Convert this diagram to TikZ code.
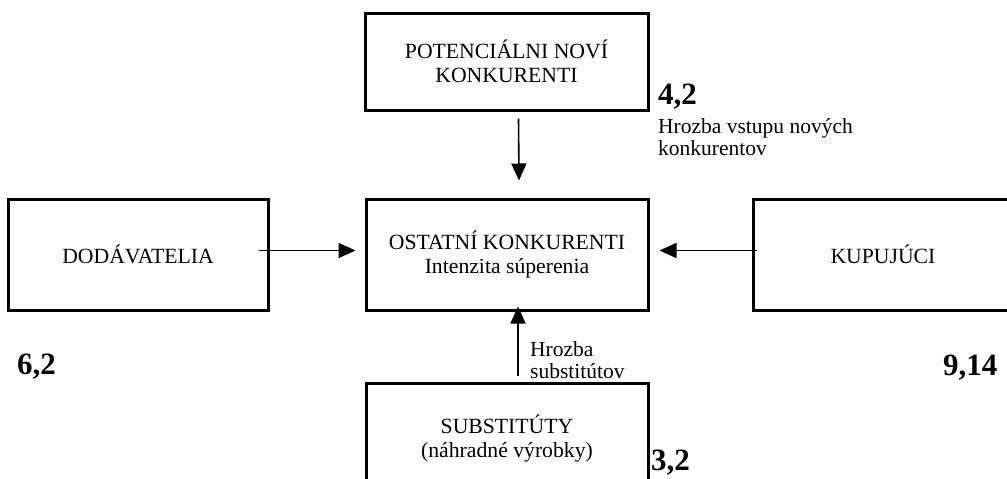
\documentclass[tikz,border=0pt]{standalone}
\usepackage{fontspec}
\setmainfont{Liberation Serif}
\usetikzlibrary{arrows.meta}
\begin{document}
\begin{tikzpicture}[x=1pt,y=-1pt]
\tikzset{
  force/.style={draw, line width=3pt, minimum width=#1, minimum height=111pt,
    inner sep=0pt, align=center, font=\fontsize{21.7}{24}\selectfont},
  flow/.style={line width=1.6pt, arrows={-Triangle[length=17pt, width=15pt]}},
  score/.style={anchor=base west, inner sep=0pt, font=\fontsize{31}{36}\selectfont\bfseries},
  note/.style={anchor=north west, inner sep=0pt, align=left, font=\fontsize{21.5}{22}\selectfont}
}
\clip (0,0) rectangle (1007,479);

\node[force=283pt, minimum height=97pt] (potencialni) at (506.5,61.5) {POTENCIÁLNI NOVÍ\\KONKURENTI};
\node[force=282pt] (ostatni)     at (507,254.5) {OSTATNÍ KONKURENTI\\Intenzita súperenia};
\node[force=260pt] (dodavatelia) at (138,254.5) {DODÁVATELIA};
\node[force=260pt] (kupujuci)    at (883,254.5) {KUPUJÚCI};
\node[force=282pt] (substituty)  at (507,438.5) {SUBSTITÚTY\\(náhradné výrobky)};

\draw[flow] ([xshift=12pt,yshift=-7pt]potencialni.south) -- ([xshift=12pt,yshift=17pt]ostatni.north);
\draw[flow] ([xshift=11pt,yshift=6pt]substituty.north)   -- ([xshift=11pt,yshift=5pt]ostatni.south);
\draw[flow] ([xshift=-11pt,yshift=4pt]dodavatelia.east)  -- ([xshift=-9pt,yshift=4pt]ostatni.west);
\draw[flow] ([xshift=5pt,yshift=4pt]kupujuci.west)       -- ([xshift=10pt,yshift=4pt]ostatni.east);

\node[score] (vstupCislo) at (658,104) {4,2};
\node[note]  (vstupText)  at (658,118) {Hrozba vstupu nových\\konkurentov};
\node[note]  (substText)  at (530,341) {Hrozba\\substitútov};
\node[score] (dodCislo)   at (17,374)  {6,2};
\node[score] (kupCislo)   at (943,375) {9,14};
\node[score] (substCislo) at (651,470) {3,2};
\end{tikzpicture}
\end{document}
